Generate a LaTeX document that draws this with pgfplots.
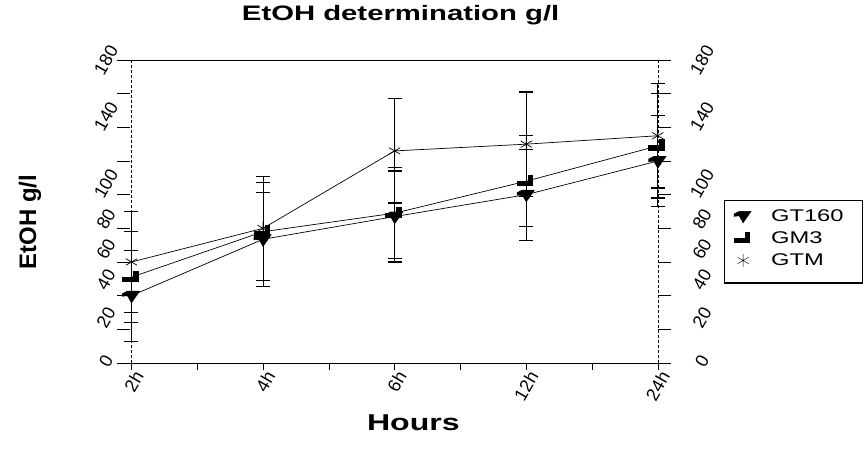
\documentclass[border=0pt]{standalone}
\usepackage{fontspec}
\setmainfont{Liberation Sans}
\newfontfamily\widefont[FakeStretch=1.4]{Liberation Sans}
\usepackage{pgfplots}
\usepackage{pgfplotstable}
\pgfplotsset{compat=1.18}

% plot marks that look like the scanned symbols
\pgfdeclareplotmark{gtarrow}{%
  \pgfpathmoveto{\pgfpoint{-9bp}{2bp}}%
  \pgfpathlineto{\pgfpoint{-4bp}{4.5bp}}%
  \pgfpathlineto{\pgfpoint{8bp}{4.5bp}}%
  \pgfpathlineto{\pgfpoint{0bp}{-7bp}}%
  \pgfpathlineto{\pgfpoint{-4bp}{0bp}}%
  \pgfpathlineto{\pgfpoint{-9bp}{-0.5bp}}%
  \pgfpathclose
  \pgfusepathqfillstroke}
\pgfdeclareplotmark{gmstep}{%
  \pgfpathmoveto{\pgfpoint{-9bp}{-4.5bp}}%
  \pgfpathlineto{\pgfpoint{6.5bp}{-4.5bp}}%
  \pgfpathlineto{\pgfpoint{6.5bp}{6bp}}%
  \pgfpathlineto{\pgfpoint{2bp}{6bp}}%
  \pgfpathlineto{\pgfpoint{2bp}{0bp}}%
  \pgfpathlineto{\pgfpoint{-9bp}{0bp}}%
  \pgfpathclose
  \pgfusepathqfillstroke}

% x: 0=2h 1=4h 2=6h 3=12h 4=24h
\pgfplotstableread{
x y e
0 40 27
1 73.5 28
2 87 27
3 100 27
4 120 27
}\gtone
\pgfplotstableread{
x y e
0 51 27
1 78 29
2 89 27
3 108 27
4 129 31
}\gmthree
\pgfplotstableread{
x y e
0 60 30
1 80 31
2 126 31
3 130 31
4 135 31
}\gtm

\pgfplotsset{
  base/.style={at={(0,0)}, anchor=south west, scale only axis,
    width=554bp, height=303bp, xmin=-0.11, xmax=4.1, ymin=0, ymax=180},
  series/.style={forget plot, black, line width=0.7bp,
    mark options={solid, fill=black},
    error bars/y dir=both, error bars/y explicit,
    error bars/error bar style={line width=0.7bp},
    error bars/error mark options={rotate=90, mark size=7bp, line width=1.2bp}},
}

\begin{document}
\begin{tikzpicture}
\useasboundingbox (-117bp,-94bp) rectangle (747bp,363bp);

\begin{axis}[base,
  separate axis lines,
  y axis line style={draw=none},
  x axis line style={line width=0.8bp},
  ytick=\empty,
  xtick={0,1,2,3,4},
  xticklabels={2h,4h,6h,12h,24h},
  minor xtick={0.5,1.5,2.5,3.5},
  xtick pos=left,
  tick align=outside,
  major tick length=7bp, minor tick length=7bp,
  tick style={black, line width=0.6bp},
  xticklabel style={xshift=9bp, rotate=60, anchor=east,
    font=\fontsize{18}{18}\selectfont},
  title={\widefont\bfseries\fontsize{21}{24}\selectfont EtOH determination g/l},
  title style={at={(axis description cs:0.512,1.129)}, anchor=center},
  xlabel={\widefont\bfseries\fontsize{23}{26}\selectfont Hours},
  xlabel style={at={(axis description cs:0.535,-0.198)}, anchor=center},
  ylabel={\bfseries\fontsize{24}{26}\selectfont EtOH g/l},
  ylabel style={at={(axis description cs:-0.157,0.465)}, anchor=center},
  legend style={name=leg, at={(1.0955,0.538)}, anchor=north west,
    draw=none, fill=none, font=\widefont\fontsize{17}{19}\selectfont,
    inner xsep=10bp, inner ysep=7bp, row sep=5bp, column sep=18bp},
  legend cell align=left,
]
% top frame line
\draw[black, line width=0.8bp] (rel axis cs:0,1) -- (rel axis cs:1,1);
\addplot[forget plot, black, line width=0.6bp, dash pattern=on 3bp off 2bp]
  coordinates {(0,0) (0,180)};
\addplot[forget plot, black, line width=0.6bp, dash pattern=on 3bp off 2bp]
  coordinates {(4,0) (4,180)};

\addplot[series, mark=gtarrow] table[x=x, y=y, y error=e] {\gtone};
\addplot[series, mark=gmstep] table[x=x, y=y, y error=e] {\gmthree};
\addplot[series, mark=asterisk, mark size=6.5bp] table[x=x, y=y, y error=e] {\gtm};

\addlegendimage{only marks, black, mark=gtarrow, mark options={fill=black}}
\addlegendentry{GT160}
\addlegendimage{only marks, black, mark=gmstep, mark options={fill=black}}
\addlegendentry{GM3}
\addlegendimage{only marks, black, mark=asterisk, mark size=6.5bp}
\addlegendentry{GTM}
\end{axis}
% legend frame, as wide as in the scan
\draw[black, line width=0.8bp] (leg.north west) rectangle ++(138bp,-83bp);
\draw[black, line width=1.6bp] ([xshift=1bp,yshift=-83bp]leg.north west) -- ++(137bp,0pt);

% y tick marks on both sides, pointing in to the dashed axes
\begin{axis}[base, hide x axis, y axis line style={draw=none},
  ytick={0,20,...,180}, yticklabels={}, ytick pos=both,
  tick align=inside, major tick length=13bp,
  tick style={black, line width=0.8bp}]
\end{axis}

% tick numbers, placed where the scan has them
\begin{axis}[base, hide x axis, y axis line style={draw=none},
  ytick={1,27,49.6,67.6,85.5,106.5,146.5,180},
  yticklabels={0,20,40,60,80,100,140,180},
  ytick pos=left, major tick length=0pt,
  yticklabel style={xshift=-11bp, rotate=60, anchor=center,
    font=\fontsize{18}{18}\selectfont}]
\end{axis}
\begin{axis}[base, hide x axis, y axis line style={draw=none},
  ytick={1,27,49.6,67.6,85.5,106.5,146.5,180},
  yticklabels={0,20,40,60,80,100,140,180},
  ytick pos=right, major tick length=0pt,
  yticklabel style={xshift=31bp, rotate=60, anchor=center,
    font=\fontsize{18}{18}\selectfont}]
\end{axis}
\end{tikzpicture}
\end{document}
